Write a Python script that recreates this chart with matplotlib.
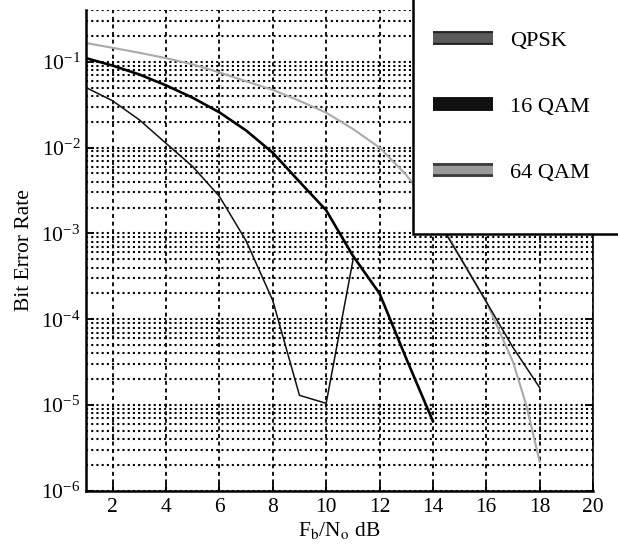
import numpy as np
import matplotlib
matplotlib.use('Agg')
import matplotlib.pyplot as plt
from matplotlib.lines import Line2D
from matplotlib.patches import Rectangle
import matplotlib.patheffects as pe

plt.rcParams['font.family'] = ['Liberation Serif', 'DejaVu Serif']
plt.rcParams['mathtext.fontset'] = 'stix'

# values
qpsk_x = [1, 2, 3, 4, 5, 6, 7, 8, 9, 10, 11]
qpsk_ber = [0.050, 0.035, 0.021, 0.0112, 0.0060, 0.0027, 8.2e-4, 1.65e-4, 1.3e-5, 1.05e-5, 4.8e-4]

qam16_x = [1, 2, 3, 4, 5, 6, 7, 8, 9, 10, 11, 12, 13, 14]
qam16_ber = [0.11, 0.090, 0.071, 0.053, 0.038, 0.0257, 0.0158, 0.0087, 0.0040, 0.00186,
             5.5e-4, 2.0e-4, 3.5e-5, 6.5e-6]

qam64_x = [1, 2, 3, 4, 5, 6, 7, 8, 9, 10, 11, 12, 13, 14, 15, 16, 17, 17.5, 18]
qam64_ber = [0.165, 0.145, 0.127, 0.110, 0.093, 0.075, 0.059, 0.047, 0.035, 0.0255,
             0.0165, 0.010, 0.0048, 0.0019, 5.4e-4, 1.6e-4, 3.2e-5, 1.0e-5, 2.2e-6]

# dark segment on the right, coming out from under the legend
tail_x = [14.4, 15, 16, 17, 18]
tail_ber = [1.1e-3, 5.4e-4, 1.6e-4, 4.7e-5, 1.6e-5]

labels = ['QPSK', '16 QAM', '64 QAM']
x_ticks = [2, 4, 6, 8, 10, 12, 14, 16, 18, 20]

fs = 15.5

fig = plt.figure(figsize=(6.18, 5.48), dpi=100)
ax = fig.add_axes([86/618, 1-491/548, (593-86)/618, (491-10)/548])

ax.plot(qam64_x, qam64_ber, color='#aaaaaa', lw=1.5, zorder=2)
ax.plot(qam16_x, qam16_ber, color='black', lw=1.9, zorder=3)
ax.plot(qpsk_x, qpsk_ber, color='#111111', lw=1.1, zorder=3)
ax.plot(tail_x, tail_ber, color='#111111', lw=1.1, zorder=3)

ax.set_yscale('log')
ax.set_xlim(1, 20)
ax.set_ylim(1e-6, 0.4)
ax.set_xticks(x_ticks)
ax.set_yticks([1e-6, 1e-5, 1e-4, 1e-3, 1e-2, 1e-1])
ax.yaxis.set_minor_locator(matplotlib.ticker.LogLocator(base=10, subs=np.arange(2, 10)))
ax.yaxis.set_minor_formatter(matplotlib.ticker.NullFormatter())

ax.grid(True, axis='y', which='both', color='black', lw=1.5, linestyle=(0, (1, 1.5)))
ax.grid(True, axis='x', which='major', color='black', lw=1.3, linestyle=(0, (2.2, 2)))

ax.tick_params(axis='both', which='major', direction='in', length=6, width=1.3,
               labelsize=fs, right=True, top=False)
ax.tick_params(axis='x', pad=5)
ax.tick_params(axis='y', pad=4)
ax.tick_params(axis='y', which='minor', length=0)

ax.spines['top'].set_visible(False)
ax.spines['left'].set_linewidth(1.8)
ax.spines['bottom'].set_linewidth(1.8)
ax.spines['right'].set_linewidth(1.2)

ax.set_xlabel(r'F$_\mathrm{b}$/N$_\mathrm{o}$ dB', fontsize=fs, labelpad=2)
ax.set_ylabel('Bit Error Rate', fontsize=fs, labelpad=5)

# legend box runs off the top and right edge of the figure
box = Rectangle((413/618, 1-234/548), 0.5, 0.6, transform=fig.transFigure,
                facecolor='white', edgecolor='black', lw=1.8, zorder=4)
fig.add_artist(box)

handles = [
    Line2D([], [], color='#5a5a5a', lw=7, solid_capstyle='butt',
           path_effects=[pe.Stroke(linewidth=10, foreground='#222222'), pe.Normal()]),
    Line2D([], [], color='#111111', lw=10, solid_capstyle='butt'),
    Line2D([], [], color='#9a9a9a', lw=6, solid_capstyle='butt',
           path_effects=[pe.Stroke(linewidth=10, foreground='#3a3a3a'), pe.Normal()]),
]
leg = fig.legend(handles, labels, loc='upper left', bbox_to_anchor=(433/618, 1-30/548),
                 frameon=False, fontsize=16, labelspacing=2.05, handlelength=2.7,
                 handletextpad=0.75, borderpad=0, borderaxespad=0)
leg.set_zorder(5)

fig.savefig('out.png', dpi=100)
